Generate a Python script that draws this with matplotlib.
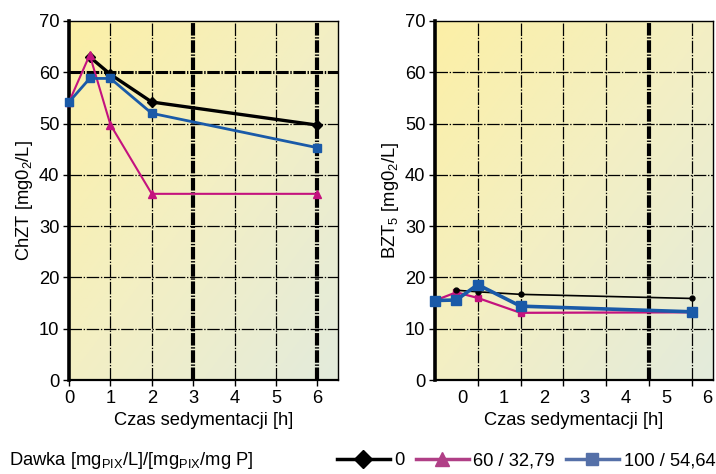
import numpy as np
import matplotlib.pyplot as plt
from matplotlib.colors import LinearSegmentedColormap
from matplotlib.lines import Line2D

plt.rcParams['font.family'] = ['Liberation Sans', 'DejaVu Sans']
plt.rcParams['mathtext.fontset'] = 'custom'
plt.rcParams['mathtext.rm'] = 'Liberation Sans'
plt.rcParams['mathtext.it'] = 'Liberation Sans:italic'
plt.rcParams['lines.scale_dashes'] = False

# czas sedymentacji [h]
czas = [0, 0.5, 1, 2, 6]

# ChZT [mgO2/L]  (black series has no visible point at t=0)
chzt_0 = [np.nan, 63.0, 59.6, 54.2, 49.7]
chzt_60 = [54.2, 63.4, 49.8, 36.3, 36.3]
chzt_100 = [54.2, 58.8, 58.8, 52.0, 45.3]

# BZT5 [mgO2/L]
bzt_0 = [np.nan, 17.5, 17.2, 16.7, 15.9]
bzt_60 = [15.5, 17.1, 16.0, 13.1, 13.2]
bzt_100 = [15.5, 15.6, 18.6, 14.4, 13.3]

legend_labels = ['0', '60 / 32,79', '100 / 54,64']
x_tick_labels = ['0', '1', '2', '3', '4', '5', '6']

BLACK = '#000000'
MAGENTA = '#C4127E'
BLUE = '#1A5AA8'
FS = 13.2

bg = LinearSegmentedColormap.from_list('bg', ['#FCEFA6', '#F3EFC4', '#E3EBDC'])
GRID_LS = (0, (9, 1.2, 1, 1.2))


def style_axes(ax, thick_x):
    g = np.linspace(0, 1, 200)
    gx, gy = np.meshgrid(g, g)
    ax.imshow((gx + gy) / 2, cmap=bg, extent=(0, 1, 0, 1), transform=ax.transAxes,
              aspect='auto', zorder=0, origin='upper')
    ax.set_xlim(0, 6.5)
    ax.set_ylim(0, 70)
    for y in range(10, 70, 10):
        lw = 2.2 if (y == 60 and 3 in thick_x) else 0.9
        ax.axhline(y, color='black', lw=lw, ls=GRID_LS, zorder=1)
    for x in range(1, 7):
        lw = 3.0 if x in thick_x else 0.9
        ax.axvline(x, color='black', lw=lw, ls=GRID_LS, zorder=1)
    ax.spines['left'].set_linewidth(2.6)
    ax.spines['bottom'].set_linewidth(1.6)
    ax.spines['top'].set_linewidth(1.0)
    ax.spines['right'].set_linewidth(1.0)
    ax.set_yticks(range(0, 71, 10))
    ax.tick_params(axis='both', labelsize=FS, length=4, width=1, direction='out', pad=3)


fig = plt.figure(figsize=(7.16, 4.74), dpi=100)
ax1 = fig.add_axes([0.0964, 0.1983, 0.3756, 0.7574])
ax2 = fig.add_axes([0.6075, 0.1983, 0.3883, 0.7574])

style_axes(ax1, thick_x=[3, 6])
ax1.plot(czas, chzt_0, color=BLACK, lw=2.4, marker='D', ms=5, zorder=3, clip_on=False)
ax1.plot(czas, chzt_60, color=MAGENTA, lw=1.5, marker='^', ms=6, zorder=4, clip_on=False)
ax1.plot(czas, chzt_100, color=BLUE, lw=2.0, marker='s', ms=6, zorder=5, clip_on=False)
ax1.set_xticks(range(0, 7))
ax1.set_xticklabels(x_tick_labels)
ax1.set_ylabel(r'ChZT [mg0$_\mathregular{2}$/L]', fontsize=FS, labelpad=3)
ax1.set_xlabel('Czas sedymentacji [h]', fontsize=FS, labelpad=4)

style_axes(ax2, thick_x=[5])
ax2.plot(czas, bzt_0, color=BLACK, lw=1.2, marker='o', ms=3.5, zorder=4, clip_on=False)
ax2.plot(czas, bzt_60, color=MAGENTA, lw=1.6, marker='s', ms=5, zorder=3, clip_on=False)
ax2.plot(czas, bzt_100, color=BLUE, lw=2.6, marker='s', ms=7, zorder=5, clip_on=False)
ax2.set_xticks(range(1, 7))
ax2.set_xticklabels([])
# tick labels in the source are shifted against the grid
ax2.set_xticks([0.65, 1.6, 2.55, 3.5, 4.46, 5.42, 6.37], minor=True)
ax2.set_xticklabels(x_tick_labels, minor=True)
ax2.tick_params(axis='x', which='minor', length=0, labelsize=FS, pad=7)
ax2.set_ylabel(r'BZT$_\mathregular{5}$ [mg0$_\mathregular{2}$/L]', fontsize=FS, labelpad=3)
ax2.set_xlabel('Czas sedymentacji [h]', fontsize=FS, labelpad=4)

fig.text(0.012, 0.028, r'Dawka [mg$_\mathregular{PIX}$/L]/[mg$_\mathregular{PIX}$/mg P]',
         fontsize=FS, va='center')

handles = [
    Line2D([], [], color='black', lw=2.5, marker='D', ms=9),
    Line2D([], [], color='#B03F86', lw=2.5, marker='^', ms=10),
    Line2D([], [], color='#5570A8', lw=2.5, marker='s', ms=9),
]
fig.legend(handles, legend_labels, loc='center right', bbox_to_anchor=(0.999, 0.028), ncol=3,
           frameon=False, fontsize=FS, handlelength=2.9, handletextpad=0.25, columnspacing=0.6,
           borderaxespad=0, borderpad=0)

fig.savefig('out.png', dpi=100)
